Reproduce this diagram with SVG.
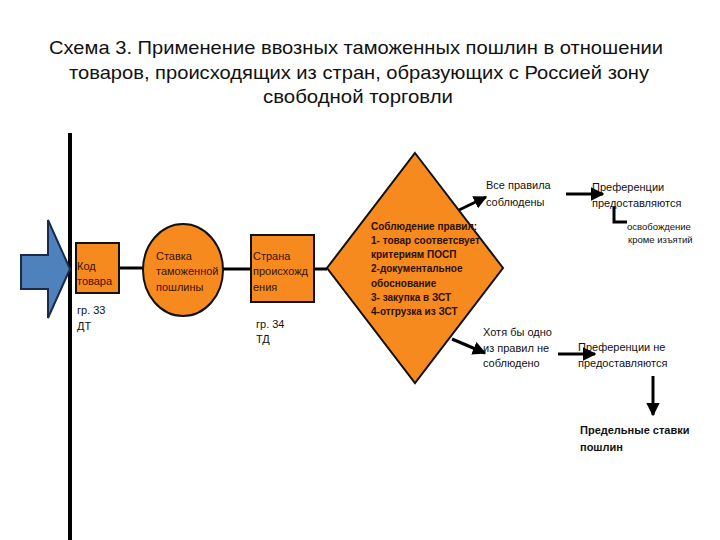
<svg xmlns="http://www.w3.org/2000/svg" width="720" height="540" viewBox="0 0 720 540">
<style>
.t{font-family:"Liberation Sans",Arial,sans-serif;font-size:11px;fill:#111}
.n{font-family:"Liberation Sans",Arial,sans-serif;font-size:11px;fill:#3a1200}
.d{font-family:"Liberation Sans",Arial,sans-serif;font-size:10px;font-weight:bold;fill:#2a1000}
.title{font-family:"Liberation Sans",Arial,sans-serif;font-size:19px;fill:#111}
.orange{fill:#F78A1E;stroke:#111;stroke-width:2}
.ln{stroke:#000;stroke-width:3;fill:none}
</style>
<defs>
<marker id="ah" viewBox="0 0 10 10" refX="9" refY="5" markerWidth="4.5" markerHeight="4.5" orient="auto" markerUnits="strokeWidth">
<path d="M0,0 L10,5 L0,10 z" fill="#000"/>
</marker>
</defs>
<rect width="720" height="540" fill="#fff"/>
<g id="title">
<text class="title" x="356" y="54" text-anchor="middle" textLength="614" lengthAdjust="spacingAndGlyphs">Схема 3. Применение ввозных таможенных пошлин в отношении</text>
<text class="title" x="359" y="79" text-anchor="middle" textLength="580" lengthAdjust="spacingAndGlyphs">товаров, происходящих из стран, образующих с Россией зону</text>
<text class="title" x="358" y="103" text-anchor="middle" textLength="190" lengthAdjust="spacingAndGlyphs">свободной торговли</text>
</g>
<g id="border-line">
<line x1="70" y1="133" x2="70" y2="540" stroke="#000" stroke-width="4"/>
</g>
<g id="input-arrow">
<polygon points="21,255 48,255 48,220 70,269 48,318 48,289 21,289" fill="#4F81BD" stroke="#1B2A4A" stroke-width="2"/>
</g>
<g id="connectors">
<line class="ln" x1="119" y1="268" x2="143" y2="268"/>
<line class="ln" x1="223" y1="269" x2="251" y2="269"/>
<line class="ln" x1="314" y1="269" x2="327" y2="269"/>
<line class="ln" x1="459" y1="210" x2="486" y2="197" marker-end="url(#ah)"/>
<line class="ln" x1="566" y1="194" x2="603" y2="194" marker-end="url(#ah)"/>
<polyline class="ln" points="614,207 614,222 627,222"/>
<line class="ln" x1="452" y1="339" x2="485" y2="353" marker-end="url(#ah)"/>
<line class="ln" x1="558" y1="354" x2="595" y2="354" marker-end="url(#ah)"/>
<line class="ln" x1="653" y1="376" x2="653" y2="415" marker-end="url(#ah)"/>
</g>
<g id="node-kod">
<rect class="orange" x="76" y="243" width="43" height="50"/>
<text class="n" x="77" y="270">Код</text>
<text class="n" x="77" y="285">товара</text>
<text class="t" x="77" y="314">гр. 33</text>
<text class="t" x="77" y="330">ДТ</text>
</g>
<g id="node-stavka">
<ellipse class="orange" cx="183" cy="270" rx="40" ry="46"/>
<text class="n" x="156" y="260">Ставка</text>
<text class="n" x="156" y="275">таможенной</text>
<text class="n" x="156" y="291">пошлины</text>
</g>
<g id="node-strana">
<rect class="orange" x="251" y="235" width="63" height="67"/>
<text class="n" x="253" y="260">Страна</text>
<text class="n" x="253" y="275">происхожд</text>
<text class="n" x="253" y="291">ения</text>
<text class="t" x="256" y="328">гр. 34</text>
<text class="t" x="256" y="343">ТД</text>
</g>
<g id="node-rules">
<polygon class="orange" points="415,153 503,268 415,383 327,268"/>
<text class="d" x="371" y="230">Соблюдение правил:</text>
<text class="d" x="371" y="244">1- товар соответсвует</text>
<text class="d" x="371" y="258">критериям ПОСП</text>
<text class="d" x="371" y="272">2-документальное</text>
<text class="d" x="371" y="287">обоснование</text>
<text class="d" x="371" y="301">3- закупка в ЗСТ</text>
<text class="d" x="371" y="315">4-отгрузка из ЗСТ</text>
</g>
<g id="node-all-rules">
<text class="t" x="486" y="189">Все правила</text>
<text class="t" x="486" y="206">соблюдены</text>
</g>
<g id="node-pref-yes">
<text class="t" x="592" y="191">Преференции</text>
<text class="t" x="592" y="207">предоставляются</text>
</g>
<g id="node-exempt">
<text class="t" x="627" y="230" style="font-size:9.5px">освобождение</text>
<text class="t" x="628" y="243" style="font-size:9.5px">кроме изъятий</text>
</g>
<g id="node-not-all">
<text class="t" x="483" y="336">Хотя бы одно</text>
<text class="t" x="483" y="352">из правил не</text>
<text class="t" x="483" y="367">соблюдено</text>
</g>
<g id="node-pref-no">
<text class="t" x="578" y="351">Преференции не</text>
<text class="t" x="578" y="367">предоставляются</text>
</g>
<g id="node-limit">
<text class="t" x="580" y="434" style="font-weight:bold">Предельные ставки</text>
<text class="t" x="580" y="451" style="font-weight:bold">пошлин</text>
</g>
</svg>
